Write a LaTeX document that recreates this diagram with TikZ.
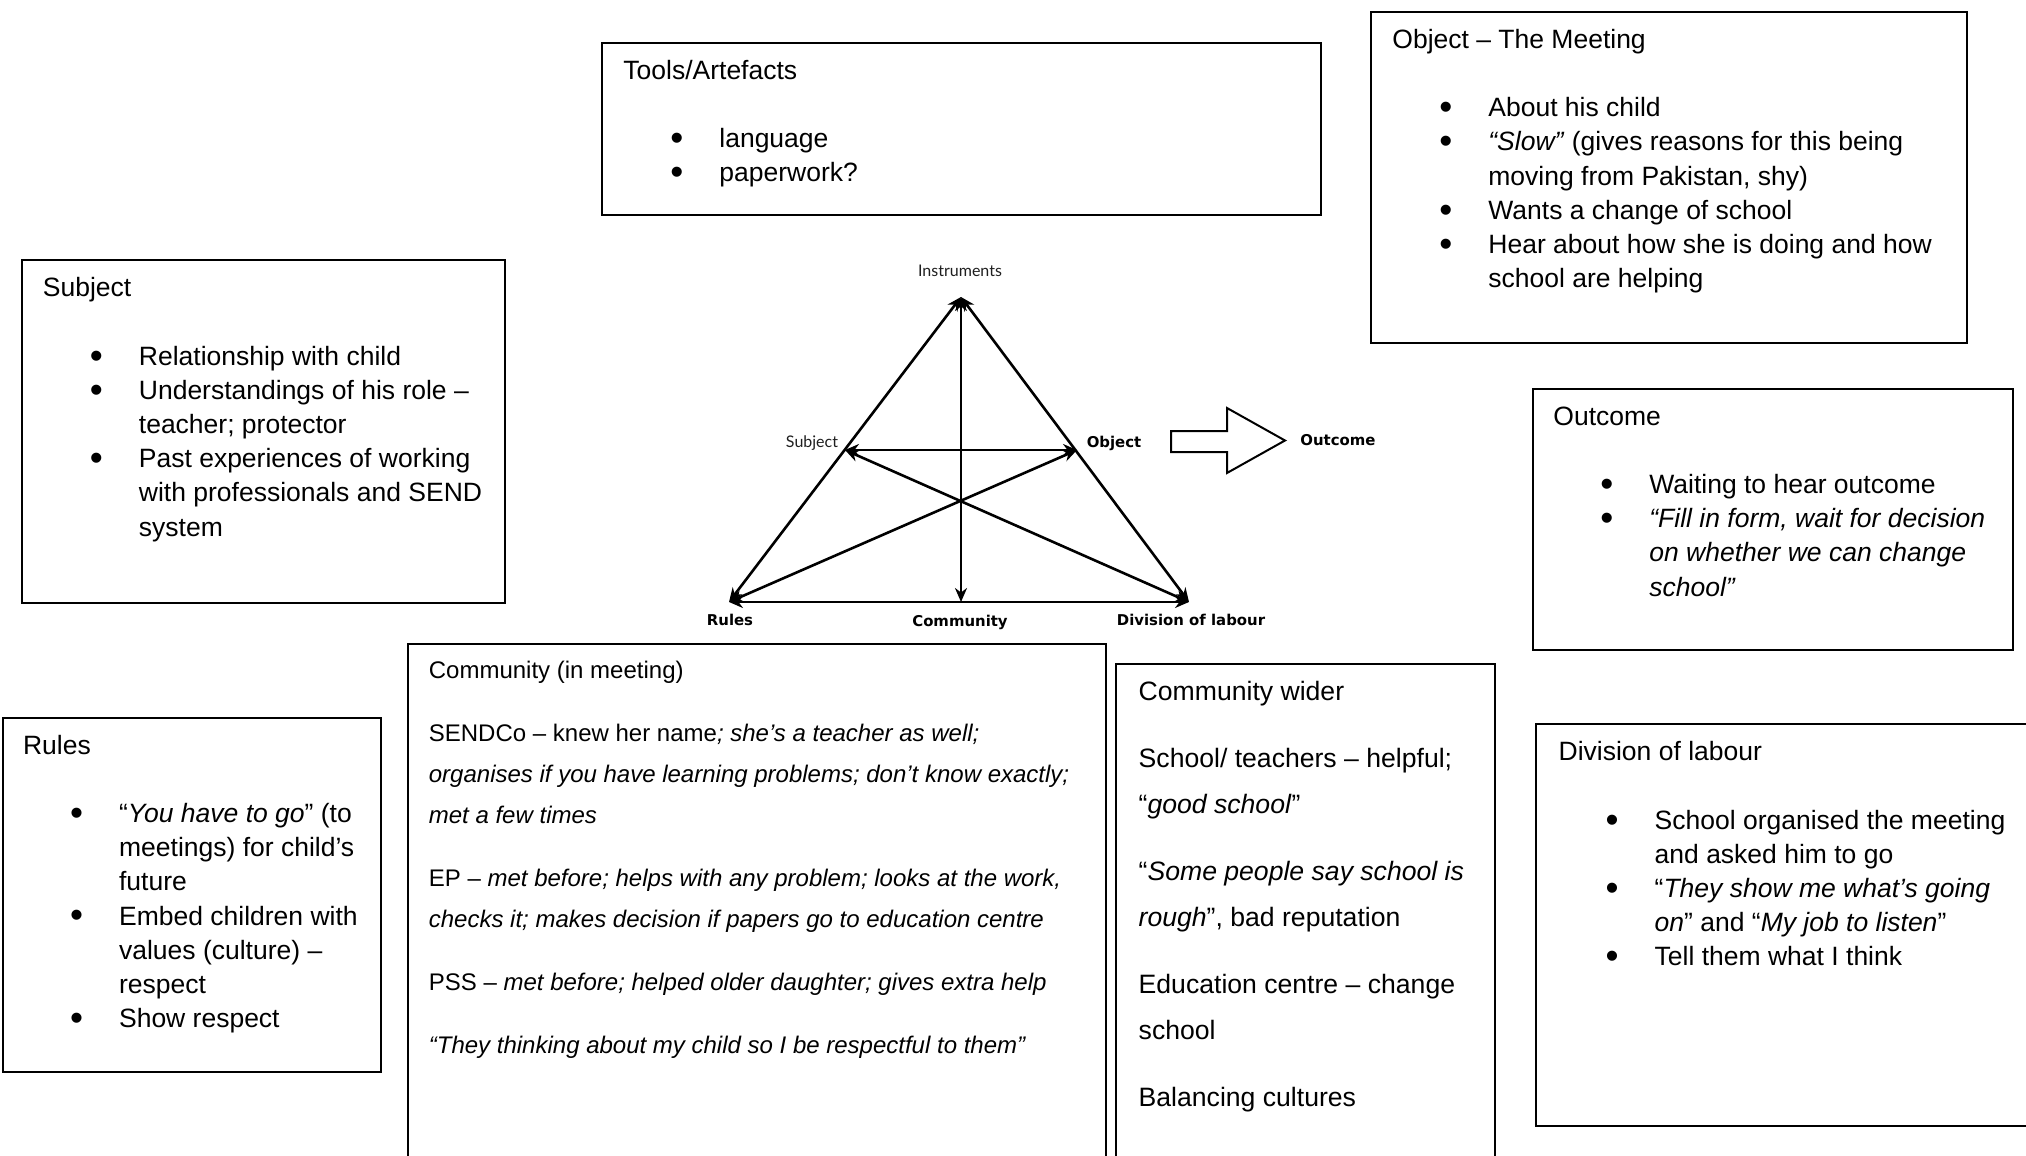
\documentclass[tikz,border=0pt]{standalone}
\usepackage{fontspec}
\setmainfont{Liberation Sans}
\newfontfamily\trifont{DejaVu Sans}
\newfontfamily\lightfont{Lato}
\usetikzlibrary{arrows.meta,fit}

% bullet layout shared by all listed boxes
\newlength\bulind \setlength\bulind{23.5pt}
\newlength\txtind \setlength\txtind{48pt}
\newcommand\bigbullet{\raisebox{-0.11em}{\scalebox{1.4}{\textbullet}}}
\newcommand\bl[1]{\makebox[\txtind][l]{\hspace*{\bulind}\bigbullet}#1}
\newcommand\cl[1]{\hspace*{\txtind}#1}
\newcommand\boxfont{\fontsize{13.25pt}{17.1pt}\selectfont}
\newcommand\meetfont{\fontsize{12pt}{20.5pt}\selectfont}
\newcommand\widefont{\fontsize{13.3pt}{23pt}\selectfont}

\begin{document}
\begin{tikzpicture}[x=0.5pt,y=-0.5pt,
  box/.style={draw=black,line width=1pt,inner sep=0pt},
  txt/.style={anchor=base west,inner sep=0pt},
  lbllight/.style={font=\lightfont\fontsize{8pt}{9pt}\selectfont,text=black!88,inner sep=0pt},
  lblbold/.style={font=\trifont\bfseries\fontsize{7.45pt}{9pt}\selectfont,inner sep=0pt},
  tri/.style={line width=1.3pt,{Stealth[length=7pt,width=6pt]}-{Stealth[length=7pt,width=6pt]}}]
\useasboundingbox (0,0) rectangle (2026,1156);
\clip (0,0) rectangle (2026,1156);
\fill[white] (0,0) rectangle (2026,1156);

% ---------- text boxes ----------
\node[box,fit={(602,42.7) (1320.5,215)}] (toolsbox) {};
\node[txt] (toolstext) at (623,79.3) {\parbox[t]{330pt}{\boxfont
Tools/Artefacts\\[17.1pt]
\bl{language}\\
\bl{paperwork?}}};

\node[box,fit={(1370.6,11.7) (1966.6,343)}] (objbox) {};
\node[txt] (objtext) at (1392,48.3) {\parbox[t]{330pt}{\boxfont
Object – The Meeting\\[17.1pt]
\bl{About his child}\\
\bl{\textit{“Slow”} (gives reasons for this being}\\
\cl{moving from Pakistan, shy)}\\
\bl{Wants a change of school}\\
\bl{Hear about how she is doing and how}\\
\cl{school are helping}}};

\node[box,fit={(21.6,260) (505,603)}] (subjbox) {};
\node[txt] (subjtext) at (42.5,296.7) {\parbox[t]{300pt}{\boxfont
Subject\\[17.1pt]
\bl{Relationship with child}\\
\bl{Understandings of his role –}\\
\cl{teacher; protector}\\
\bl{Past experiences of working}\\
\cl{with professionals and SEND}\\
\cl{system}}};

\node[box,fit={(1533,389.3) (2012.7,650)}] (outbox) {};
\node[txt] (outtext) at (1553,425) {\parbox[t]{300pt}{\boxfont
Outcome\\[17.1pt]
\bl{Waiting to hear outcome}\\
\bl{\textit{“Fill in form, wait for decision}}\\
\cl{\textit{on whether we can change}}\\
\cl{\textit{school”}}}};

\node[box,fit={(2.7,718.3) (381,1072.3)}] (rulesbox) {};
\node[txt] (rulestext) at (22.7,754) {\parbox[t]{300pt}{\boxfont
Rules\\[17.1pt]
\bl{“\textit{You have to go}” (to}\\
\cl{meetings) for child’s}\\
\cl{future}\\
\bl{Embed children with}\\
\cl{values (culture) –}\\
\cl{respect}\\
\bl{Show respect}}};

\node[box,fit={(408.3,644) (1105.7,1200)}] (meetbox) {};
\node[txt] (meettext) at (428.5,678.3) {\parbox[t]{340pt}{\meetfont
Community (in meeting)\\[11pt]
SENDCo – knew her name\textit{; she’s a teacher as well;}\\
\textit{organises if you have learning problems; don’t know exactly;}\\
\textit{met a few times}\\[11pt]
EP – \textit{met before; helps with any problem; looks at the work,}\\
\textit{checks it; makes decision if papers go to education centre}\\[11pt]
PSS – \textit{met before; helped older daughter; gives extra help}\\[11pt]
\textit{“They thinking about my child so I be respectful to them”}}};

\node[box,fit={(1116,664) (1495,1200)}] (widebox) {};
\node[txt] (widetext) at (1138.3,700) {\parbox[t]{300pt}{\widefont
Community wider\\[10.5pt]
School/ teachers – helpful;\\
“\textit{good school}”\\[10.5pt]
“\textit{Some people say school is}\\
\textit{rough}”, bad reputation\\[10.5pt]
Education centre – change\\
school\\[10.5pt]
Balancing cultures}};

\node[box,fit={(1536,724) (2040,1125.7)}] (divbox) {};
\node[txt] (divtext) at (1558.3,760.7) {\parbox[t]{300pt}{\boxfont
Division of labour\\[17.1pt]
\bl{School organised the meeting}\\
\cl{and asked him to go}\\
\bl{“\textit{They show me what’s going}}\\
\cl{\textit{on}” and “\textit{My job to listen}”}\\
\bl{Tell them what I think}}};

% ---------- activity triangle ----------
\coordinate (ap) at (961,297);
\coordinate (rl) at (729,602);
\coordinate (dl) at (1189,602);
\coordinate (sb) at (845,450);
\coordinate (ob) at (1077,450);
\coordinate (cm) at (961,602);

\draw[tri] (ap) -- (rl);
\draw[tri] (ap) -- (dl);
\draw[tri] (rl) -- (dl);
\draw[tri] (ap) -- (cm);
\draw[tri] (sb) -- (ob);
\draw[tri] (sb) -- (dl);
\draw[tri] (ob) -- (rl);

\node[lbllight] (instrlbl) at (960,271) {Instruments};
\node[lbllight] (subjlbl) at (812,443) {Subject};
\node[lblbold] (objlbl) at (1114,443) {Object};
\node[lblbold] (outlbl) at (1338,440) {Outcome};
\node[lblbold] (ruleslbl) at (730,620) {Rules};
\node[lblbold] (commlbl) at (960,622) {Community};
\node[lblbold] (divlbl) at (1191,620) {Division of labour};

% hollow block arrow towards the outcome
\draw[line width=1pt,line join=miter] (1171,431) -- (1227,431) -- (1227,408) -- (1285,440.5)
  -- (1227,473) -- (1227,452) -- (1171,452) -- cycle;
\end{tikzpicture}
\end{document}
